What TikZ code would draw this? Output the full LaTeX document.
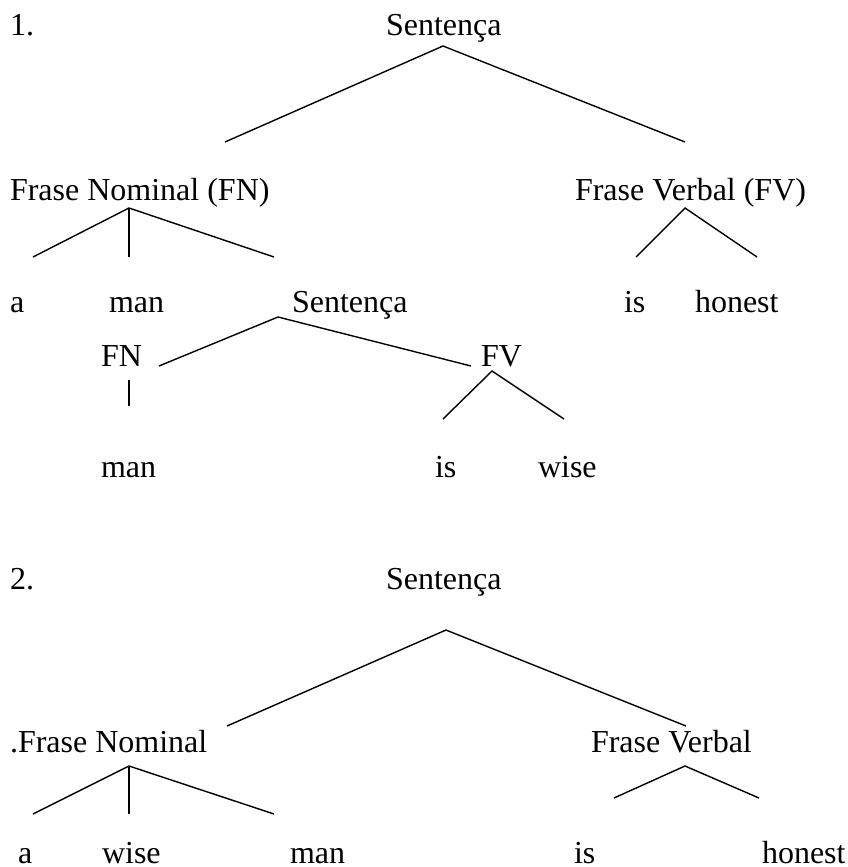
\documentclass[tikz,border=0pt]{standalone}
\usepackage{fontspec}
\setmainfont{Liberation Serif}
\begin{document}
\begin{tikzpicture}[x=1pt,y=-1pt,
  word/.style={anchor=base west,inner sep=0pt,outer sep=0pt,font=\fontsize{32}{38}\selectfont},
  branch/.style={line width=1.4pt}]
\useasboundingbox (0,0) rectangle (848,867);
% ---------- Tree 1 ----------
\node[word] (n1) at (10,36) {1.};
\node[word] (s1) at (386,36) {Sentença};
\node[word] (fn1) at (10,200) {Frase Nominal (FN)};
\node[word] (fv1) at (575,200) {Frase Verbal (FV)};
\node[word] (a1) at (10,312) {a};
\node[word] (man1) at (109,312) {man};
\node[word] (s1b) at (292,312) {Sentença};
\node[word] (is1) at (624,312) {is};
\node[word] (hon1) at (695,312) {honest};
\node[word] (fn1b) at (101,366) {FN};
\node[word] (fv1b) at (481,366) {FV};
\node[word] (man1b) at (101,477) {man};
\node[word] (is1b) at (435,477) {is};
\node[word] (wise1) at (538,477) {wise};
% coordinates
\coordinate (s1top) at (443,46);
\coordinate (s1L) at (225,142);
\coordinate (s1R) at (685,142);
\coordinate (fn1top) at (129,208);
\coordinate (fn1L) at (33,257);
\coordinate (fn1M) at (129,257);
\coordinate (fn1R) at (274,257);
\coordinate (fv1top) at (685,208);
\coordinate (fv1L) at (636,257);
\coordinate (fv1R) at (757,257);
\coordinate (s1btop) at (278,317);
\coordinate (s1bL) at (159,366);
\coordinate (s1bR) at (471,366);
\coordinate (fn1bT) at (129,380);
\coordinate (fn1bB) at (129,406);
\coordinate (fv1btop) at (492,371);
\coordinate (fv1bL) at (443,419);
\coordinate (fv1bR) at (564,419);
\draw[branch] (s1L) -- (s1top) -- (s1R);
\draw[branch] (fn1L) -- (fn1top) -- (fn1R);
\draw[branch] (fn1top) -- (fn1M);
\draw[branch] (fv1L) -- (fv1top) -- (fv1R);
\draw[branch] (s1bL) -- (s1btop) -- (s1bR);
\draw[branch] (fn1bT) -- (fn1bB);
\draw[branch] (fv1bL) -- (fv1btop) -- (fv1bR);
% ---------- Tree 2 ----------
\node[word] (n2) at (10,589) {2.};
\node[word] (s2) at (386,589) {Sentença};
\node[word] (fn2) at (10,752) {.Frase Nominal};
\node[word] (fv2) at (591,752) {Frase Verbal};
\node[word] (a2) at (18,863) {a};
\node[word] (wise2) at (102,863) {wise};
\node[word] (man2) at (290,863) {man};
\node[word] (is2) at (574,863) {is};
\node[word] (hon2) at (762,863) {honest};
\coordinate (s2top) at (446,630);
\coordinate (s2L) at (227,726);
\coordinate (s2R) at (686,726);
\coordinate (fn2top) at (129,766);
\coordinate (fn2L) at (33,814);
\coordinate (fn2M) at (129,814);
\coordinate (fn2R) at (274,814);
\coordinate (fv2top) at (685,766);
\coordinate (fv2L) at (614,798);
\coordinate (fv2R) at (759,798);
\draw[branch] (s2L) -- (s2top) -- (s2R);
\draw[branch] (fn2L) -- (fn2top) -- (fn2R);
\draw[branch] (fn2top) -- (fn2M);
\draw[branch] (fv2L) -- (fv2top) -- (fv2R);
\end{tikzpicture}
\end{document}
